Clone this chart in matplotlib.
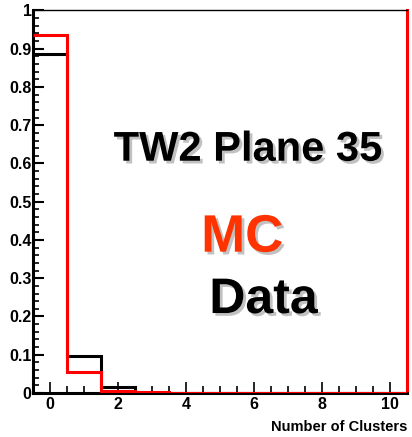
import matplotlib
matplotlib.use("Agg")
import matplotlib.pyplot as plt
import matplotlib.patheffects as pe
from matplotlib.ticker import MultipleLocator
import numpy as np
from matplotlib import font_manager

# ---- data ----
bin_edges = np.arange(-0.5, 11.5, 1.0)
data_values = [0.885, 0.097, 0.016, 0.0, 0.0, 0.0, 0.0, 0.0, 0.0, 0.0, 0.0]
mc_values = [0.935, 0.056, 0.006, 0.002, 0.0, 0.0, 0.0, 0.0, 0.0, 0.0, 0.0]
x_label = "Number of Clusters"
title_text = "TW2 Plane 35"
mc_text = "MC"
data_text = "Data"

names = {f.name for f in font_manager.fontManager.ttflist}
fam = "Liberation Sans Narrow" if "Liberation Sans Narrow" in names else "Liberation Sans"
plt.rcParams['font.family'] = ['Liberation Sans', 'DejaVu Sans']

fig = plt.figure(figsize=(4.12, 4.37), dpi=100)
ax = fig.add_axes([0.080, 0.1007, 0.908, 0.8753])

ax.stairs(data_values, bin_edges, baseline=None, color='black', linewidth=2.2, zorder=3)
ax.stairs(mc_values, bin_edges, baseline=None, color='#ff0000', linewidth=2.2, zorder=4)

ax.set_xlim(-0.5, 10.5)
ax.set_ylim(0, 1)

ax.xaxis.set_major_locator(MultipleLocator(2))
ax.xaxis.set_minor_locator(MultipleLocator(0.5))
ax.yaxis.set_major_locator(MultipleLocator(0.1))
ax.yaxis.set_minor_locator(MultipleLocator(0.02))

ax.tick_params(axis='both', which='both', direction='in', top=False, right=False)
ax.tick_params(axis='y', which='major', length=8, width=1.5, pad=1)
ax.tick_params(axis='y', which='minor', length=4.5, width=1.2)
ax.tick_params(axis='x', which='major', length=8, width=1.2, pad=3)
ax.tick_params(axis='x', which='minor', length=5, width=1.2)

ax.set_yticks(np.arange(0, 1.01, 0.1))
ax.set_yticklabels(['0'] + ['%.1f' % v for v in np.arange(0.1, 0.95, 0.1)] + ['1'])

for lab in ax.get_xticklabels() + ax.get_yticklabels():
    lab.set_fontfamily(fam)
    lab.set_fontweight('bold')
    lab.set_fontsize(11.5)

ax.spines['left'].set_linewidth(2.2)
ax.spines['bottom'].set_linewidth(2.2)
ax.spines['top'].set_linewidth(1.0)
ax.spines['right'].set_linewidth(2.2)
ax.spines['right'].set_color('#ff0000')

fig.text(0.988, 0.023, x_label, ha='right', va='center', fontsize=10.5,
         fontweight='bold', family=fam)

shadow = [pe.SimplePatchShadow(offset=(2, -2), shadow_rgbFace='#999999', alpha=0.6), pe.Normal()]
ax.text(5.82, 0.636, title_text, ha='center', va='center', fontsize=30,
        fontweight='bold', color='black', path_effects=shadow)
ax.text(5.65, 0.406, mc_text, ha='center', va='center', fontsize=38,
        fontweight='bold', color='#ff3300', path_effects=shadow)
ax.text(6.28, 0.243, data_text, ha='center', va='center', fontsize=36,
        fontweight='bold', color='black', path_effects=shadow)

fig.savefig("out.png", dpi=100)
